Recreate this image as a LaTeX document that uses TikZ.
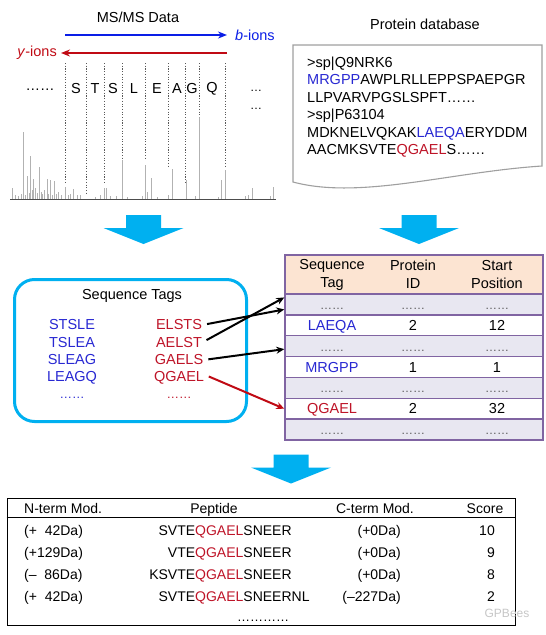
\documentclass[tikz,border=0pt]{standalone}
\usepackage{fontspec}
\setmainfont{Liberation Sans}
\usetikzlibrary{positioning,arrows.meta}

\definecolor{arrowblue}{RGB}{0,176,240}
\definecolor{tagblue}{RGB}{40,40,210}
\definecolor{tagred}{RGB}{190,20,40}
\definecolor{ionblue}{RGB}{10,30,230}
\definecolor{ionred}{RGB}{192,10,20}
\definecolor{tabline}{RGB}{128,100,162}
\definecolor{tabhead}{RGB}{252,228,210}
\definecolor{tabdot}{RGB}{232,231,241}

% dotted filler in the hit table
\newcommand{\tdots}{\textcolor{gray!70!black}{\fontsize{12}{12}\selectfont ……}}

\begin{document}
\begin{tikzpicture}[x=1pt, y=-1pt, font=\fontsize{14.5}{17}\selectfont]

% ---- Define Styles ----
\tikzset{
  ionarrow/.style={line width=2pt, -{Stealth[length=9pt, width=7pt]}},
  fragline/.style={draw=gray!70!black, line width=0.9pt, dash pattern=on 1.1pt off 1.6pt},
  peak/.style={draw=gray!60, line width=1pt},
  residue/.style={inner sep=0pt},
  docline/.style={draw=gray!75, line width=1.1pt, fill=white},
  dbline/.style={anchor=base west, inner sep=0pt},
  bigarrow/.pic={
    \fill[arrowblue] (-17.5,-14.5) -- (17.5,-14.5) -- (17.5,-1.5) -- (40,-1.5)
      -- (0,14.5) -- (-40,-1.5) -- (-17.5,-1.5) -- cycle;
  },
  tagbox/.style={draw=arrowblue, line width=3pt, rounded corners=20pt,
    minimum width=232, minimum height=142, inner sep=0pt},
  btag/.style={text=tagblue, inner sep=0pt},
  ytag/.style={text=tagred, inner sep=0pt},
  linkarrow/.style={line width=2pt, -{Stealth[length=8pt, width=7pt]}, shorten <=5pt},
  tabrow/.style={draw=tabline, line width=1.4pt, minimum width=258,
    minimum height=20.857, inner sep=0pt},
  cell/.style={anchor=base, yshift=-5pt, inner sep=0pt},
  restext/.style={anchor=base, inner sep=0pt, font=\fontsize{14}{16}\selectfont}
}

\useasboundingbox (0,0) rectangle (546,635);

% =========================================================
% MS/MS SPECTRUM
% =========================================================
\node[inner sep=0pt] (msms) at (138,17) {MS/MS Data};

\coordinate (bstart) at (65,35);
\coordinate (bend) at (227,35);
\draw[ionarrow, ionblue] (bstart) -- (bend);
\node[right=8pt of bend, inner sep=0pt, text=ionblue] (bion) {\textit{b}-ions};

\coordinate (ystart) at (227,53);
\coordinate (yend) at (61,53);
\draw[ionarrow, ionred] (ystart) -- (yend);
\node[left=4pt of yend, inner sep=0pt, text=ionred] (yion) {\textit{y}-ions};

% peaks (x / top)
\foreach \x/\t in {12/188, 15/195, 18/196, 21/194, 23/132, 25/195, 27/176, 29/193,
  30/156, 32/190, 33/179, 35/188, 37/193, 39/167, 41/192, 42/194, 44/190, 47/179,
  48/194, 50/180, 52/195, 54/181, 56/194, 58/192, 61/195, 65/187, 68/195, 70/194,
  73/189, 77/195, 80/195, 95/197, 100/195, 104/188, 106/188, 110/196, 116/196,
  122/160, 127/197, 142/196, 145/165, 147/192, 151/178, 157/197, 168/195, 172/169,
  186/180, 195/196, 199/117, 218/197, 221/180, 225/170, 245/196, 248/195, 252/188,
  270/196, 273/187}
  \draw[peak] (\x,199) -- (\x,\t);
\draw[gray!60!black, line width=0.8pt] (10,199) -- (276,199);

% fragment ladders
\foreach \x/\b in {65/182, 86/193, 104/182, 122/158, 145/158, 168/167, 185/182, 199/117, 225/168}
  \draw[fragline] (\x,63) -- (\x,\b);

\foreach \x/\r in {76/S, 95/T, 113/S, 134/L, 157/E, 177/A, 192/G, 212/Q}
  \node[residue] (aa\x) at (\x,89) {\r};
\node[residue] (ldots) at (40,90) {……};
\node[residue, font=\fontsize{12}{12}\selectfont] (rdotsa) at (256,91) {…};
\node[residue, font=\fontsize{12}{12}\selectfont] (rdotsb) at (256,109) {…};

% =========================================================
% PROTEIN DATABASE
% =========================================================
\node[inner sep=0pt] (dbtitle) at (425,24) {Protein database};
\draw[docline] (293,45) -- (542,45) -- (542,166)
  .. controls (450,172) and (360,200) .. (293,182) -- cycle;

\node[dbline] (db1) at (307,67) {>sp|Q9NRK6};
\node[dbline] (db2) at (307,84.5) {\textcolor{tagblue}{MRGPP}AWPLRLLEPPSPAEPGR};
\node[dbline] (db3) at (307,102) {LLPVARVPGSLSPFT……};
\node[dbline] (db4) at (307,119.5) {>sp|P63104};
\node[dbline] (db5) at (307,137) {MDKNELVQKAK\textcolor{tagblue}{LAEQA}ERYDDM};
\node[dbline] (db6) at (307,154.5) {AACMKSVTE\textcolor{tagred}{QGAEL}S……};

% =========================================================
% BLOCK ARROWS
% =========================================================
\pic (downA) at (143.5,229.5) {bigarrow};
\pic (downB) at (419,229.5) {bigarrow};
\pic (downC) at (291,469) {bigarrow};

% =========================================================
% SEQUENCE TAGS
% =========================================================
\node[tagbox] (tags) at (130.5,350.5) {};
\node[inner sep=0pt] (tagtitle) at (132,296) {Sequence Tags};

\foreach \s [count=\i] in {STSLE, TSLEA, SLEAG, LEAGQ}
  \node[btag] (b\i) at (72,{307.5+17.5*\i}) {\s};
\foreach \s [count=\i] in {ELSTS, AELST, GAELS, QGAEL}
  \node[ytag] (y\i) at (179,{307.5+17.5*\i}) {\s};
\node[btag, font=\fontsize{12.5}{12.5}\selectfont] (bdots) at (72,398) {……};
\node[ytag, font=\fontsize{12.5}{12.5}\selectfont] (ydots) at (179,398) {……};

% =========================================================
% TAG INDEX TABLE
% =========================================================
\node[tabrow, fill=tabhead, minimum height=39] (head) at (414,274.5) {};
\node[align=center, inner sep=0pt, font=\fontsize{14.5}{18}\selectfont] (h1) at (332,0 |- head) {Sequence\\Tag};
\node[align=center, inner sep=0pt, font=\fontsize{14.5}{18}\selectfont] (h2) at (413,0 |- head) {Protein\\ID};
\node[align=center, inner sep=0pt, font=\fontsize{14.5}{18}\selectfont] (h3) at (497,0 |- head) {Start\\Position};

\foreach \i/\rf/\ca/\cb/\cc in {
  1/tabdot/\tdots/\tdots/\tdots,
  2/white/{\textcolor{tagblue}{LAEQA}}/2/12,
  3/tabdot/\tdots/\tdots/\tdots,
  4/white/{\textcolor{tagblue}{MRGPP}}/1/1,
  5/tabdot/\tdots/\tdots/\tdots,
  6/white/{\textcolor{tagred}{QGAEL}}/2/32,
  7/tabdot/\tdots/\tdots/\tdots}
{
  \node[tabrow, fill=\rf] (row\i) at (414,{294+(\i-0.5)*20.857}) {};
  \node[cell] (tag\i) at (332,0 |- row\i) {\ca};
  \node[cell] (pid\i) at (413,0 |- row\i) {\cb};
  \node[cell] (pos\i) at (497,0 |- row\i) {\cc};
}

% tag -> table links
\draw[linkarrow] (y1.east) -- ([yshift=-5pt]row1.west);
\draw[linkarrow] (y2.east) -- ([yshift=7pt]row1.west);
\draw[linkarrow] (y3.east) -- ([yshift=-3pt]row3.west);
\draw[linkarrow, ionred] ([yshift=3pt]y4.east) -- (row6.west);

% =========================================================
% RESULT TABLE
% =========================================================
\node[draw, line width=1pt, minimum width=508, minimum height=127, inner sep=0pt] (result) at (261,561.5) {};
\draw[line width=1pt] ([yshift=-20pt]result.north west) -- ([yshift=-20pt]result.north east);

\node[restext, anchor=base west] (hnterm) at (24,513) {N-term Mod.};
\node[restext] (hpep) at (214,513) {Peptide};
\node[restext] (hcterm) at (375,513) {C-term Mod.};
\node[restext] (hscore) at (485,513) {Score};

\foreach \y/\nt/\pre/\post/\ct/\sc [count=\i] in {
  535/{(+\phantom{1}42Da)}/SVTE/SNEER/(+0Da)/10,
  557/(+129Da)/VTE/SNEER/(+0Da)/9,
  579/{(–\phantom{1}86Da)}/KSVTE/SNEER/(+0Da)/8,
  601/{(+\phantom{1}42Da)}/SVTE/SNEERNL/(–227Da)/2}
{
  \node[restext, anchor=base west] (nt\i) at (24,\y) {\nt};
  \node[restext, anchor=base west] (pep\i) at (195,\y) {\llap{\pre}\textcolor{tagred}{QGAEL}\post};
  \node[restext, anchor=base east] (ct\i) at (401,\y) {\ct};
  \node[restext, anchor=base east] (sc\i) at (495,\y) {\sc};
}
\node[restext, font=\fontsize{13}{13}\selectfont] (resdots) at (263,621) {…………};
\node[restext, text=gray!45, font=\fontsize{12}{12}\selectfont] (wmark) at (507,617) {GPBees};

\end{tikzpicture}
\end{document}
